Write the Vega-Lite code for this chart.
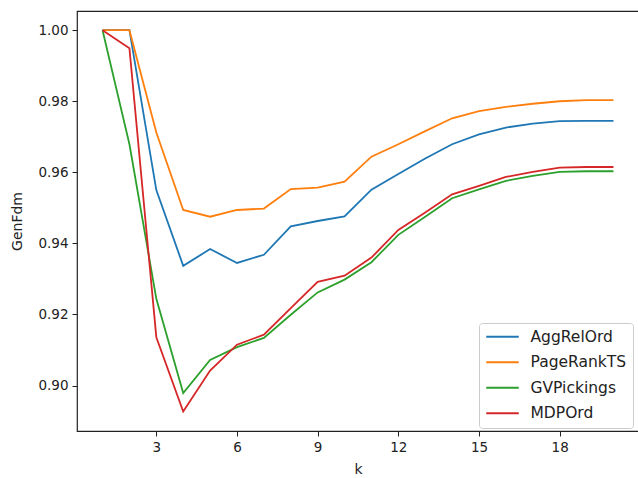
{
  "$schema": "https://vega.github.io/schema/vega-lite/v6.json",
  "width": 562,
  "height": 420,
  "autosize": {"type": "none"},
  "padding": {"left": 77, "top": 11, "right": 0, "bottom": 47},
  "background": "white",
  "config": {
    "font": "DejaVu Sans",
    "view": {"stroke": "#222222", "strokeWidth": 1.2},
    "axis": {"grid": false, "domain": false, "tickColor": "#222222", "tickSize": 5, "tickWidth": 1, "labelColor": "#222222", "labelFontSize": 13.5, "labelFont": "DejaVu Sans", "titleFont": "DejaVu Sans", "titleFontWeight": "normal", "titleColor": "#222222", "titleFontSize": 14}
  },
  "data": {"values": [
    {"k":1,"s":"AggRelOrd","v":1.0},{"k":2,"s":"AggRelOrd","v":1.0},{"k":3,"s":"AggRelOrd","v":0.955},{"k":4,"s":"AggRelOrd","v":0.9337},{"k":5,"s":"AggRelOrd","v":0.9384},{"k":6,"s":"AggRelOrd","v":0.9345},{"k":7,"s":"AggRelOrd","v":0.9368},{"k":8,"s":"AggRelOrd","v":0.9448},{"k":9,"s":"AggRelOrd","v":0.9463},{"k":10,"s":"AggRelOrd","v":0.9476},{"k":11,"s":"AggRelOrd","v":0.9551},{"k":12,"s":"AggRelOrd","v":0.9595},{"k":13,"s":"AggRelOrd","v":0.9639},{"k":14,"s":"AggRelOrd","v":0.9679},{"k":15,"s":"AggRelOrd","v":0.9707},{"k":16,"s":"AggRelOrd","v":0.9726},{"k":17,"s":"AggRelOrd","v":0.9737},{"k":18,"s":"AggRelOrd","v":0.9744},{"k":19,"s":"AggRelOrd","v":0.9745},{"k":20,"s":"AggRelOrd","v":0.9745},
    {"k":1,"s":"PageRankTS","v":1.0},{"k":2,"s":"PageRankTS","v":1.0},{"k":3,"s":"PageRankTS","v":0.9712},{"k":4,"s":"PageRankTS","v":0.9494},{"k":5,"s":"PageRankTS","v":0.9475},{"k":6,"s":"PageRankTS","v":0.9494},{"k":7,"s":"PageRankTS","v":0.9498},{"k":8,"s":"PageRankTS","v":0.9553},{"k":9,"s":"PageRankTS","v":0.9557},{"k":10,"s":"PageRankTS","v":0.9574},{"k":11,"s":"PageRankTS","v":0.9644},{"k":12,"s":"PageRankTS","v":0.9679},{"k":13,"s":"PageRankTS","v":0.9716},{"k":14,"s":"PageRankTS","v":0.9752},{"k":15,"s":"PageRankTS","v":0.9772},{"k":16,"s":"PageRankTS","v":0.9784},{"k":17,"s":"PageRankTS","v":0.9793},{"k":18,"s":"PageRankTS","v":0.98},{"k":19,"s":"PageRankTS","v":0.9803},{"k":20,"s":"PageRankTS","v":0.9803},
    {"k":1,"s":"GVPickings","v":1.0},{"k":2,"s":"GVPickings","v":0.9679},{"k":3,"s":"GVPickings","v":0.9244},{"k":4,"s":"GVPickings","v":0.8979},{"k":5,"s":"GVPickings","v":0.9072},{"k":6,"s":"GVPickings","v":0.9108},{"k":7,"s":"GVPickings","v":0.9134},{"k":8,"s":"GVPickings","v":0.9199},{"k":9,"s":"GVPickings","v":0.9262},{"k":10,"s":"GVPickings","v":0.9298},{"k":11,"s":"GVPickings","v":0.9347},{"k":12,"s":"GVPickings","v":0.9424},{"k":13,"s":"GVPickings","v":0.9475},{"k":14,"s":"GVPickings","v":0.9527},{"k":15,"s":"GVPickings","v":0.9552},{"k":16,"s":"GVPickings","v":0.9576},{"k":17,"s":"GVPickings","v":0.959},{"k":18,"s":"GVPickings","v":0.9601},{"k":19,"s":"GVPickings","v":0.9603},{"k":20,"s":"GVPickings","v":0.9603},
    {"k":1,"s":"MDPOrd","v":1.0},{"k":2,"s":"MDPOrd","v":0.9949},{"k":3,"s":"MDPOrd","v":0.9136},{"k":4,"s":"MDPOrd","v":0.8927},{"k":5,"s":"MDPOrd","v":0.9042},{"k":6,"s":"MDPOrd","v":0.9115},{"k":7,"s":"MDPOrd","v":0.9143},{"k":8,"s":"MDPOrd","v":0.9218},{"k":9,"s":"MDPOrd","v":0.9292},{"k":10,"s":"MDPOrd","v":0.9309},{"k":11,"s":"MDPOrd","v":0.936},{"k":12,"s":"MDPOrd","v":0.9438},{"k":13,"s":"MDPOrd","v":0.9487},{"k":14,"s":"MDPOrd","v":0.9538},{"k":15,"s":"MDPOrd","v":0.9562},{"k":16,"s":"MDPOrd","v":0.9587},{"k":17,"s":"MDPOrd","v":0.9601},{"k":18,"s":"MDPOrd","v":0.9613},{"k":19,"s":"MDPOrd","v":0.9615},{"k":20,"s":"MDPOrd","v":0.9615}
  ]},
  "mark": {"type": "line", "strokeWidth": 1.8, "clip": true},
  "encoding": {
    "x": {"field": "k", "type": "quantitative", "title": "k",
      "scale": {"domain": [0.05, 20.95], "nice": false, "zero": false},
      "axis": {"values": [3, 6, 9, 12, 15, 18], "titlePadding": 9, "labelPadding": 4}},
    "y": {"field": "v", "type": "quantitative", "title": "GenFdm",
      "scale": {"domain": [0.8872, 1.0054], "nice": false, "zero": false},
      "axis": {"values": [0.90, 0.92, 0.94, 0.96, 0.98, 1.00], "format": ".2f", "titlePadding": 13, "labelPadding": 4}},
    "color": {"field": "s", "type": "nominal",
      "scale": {"domain": ["AggRelOrd", "PageRankTS", "GVPickings", "MDPOrd"], "range": ["#1f77b4", "#ff7f0e", "#2ca02c", "#d62728"]},
      "legend": {"title": null, "orient": "none", "legendX": 402, "legendY": 312, "symbolType": "M-1,0H4", "symbolStrokeWidth": 2, "symbolSize": 169, "symbolFillColor": "transparent", "labelFontSize": 15.5, "labelOffset": 30, "labelColor": "#222222", "labelFont": "DejaVu Sans", "rowPadding": 8.5, "padding": 6, "strokeColor": "#cccccc", "fillColor": "white", "cornerRadius": 3}},
    "order": {"field": "k", "type": "quantitative"}
  }
}
